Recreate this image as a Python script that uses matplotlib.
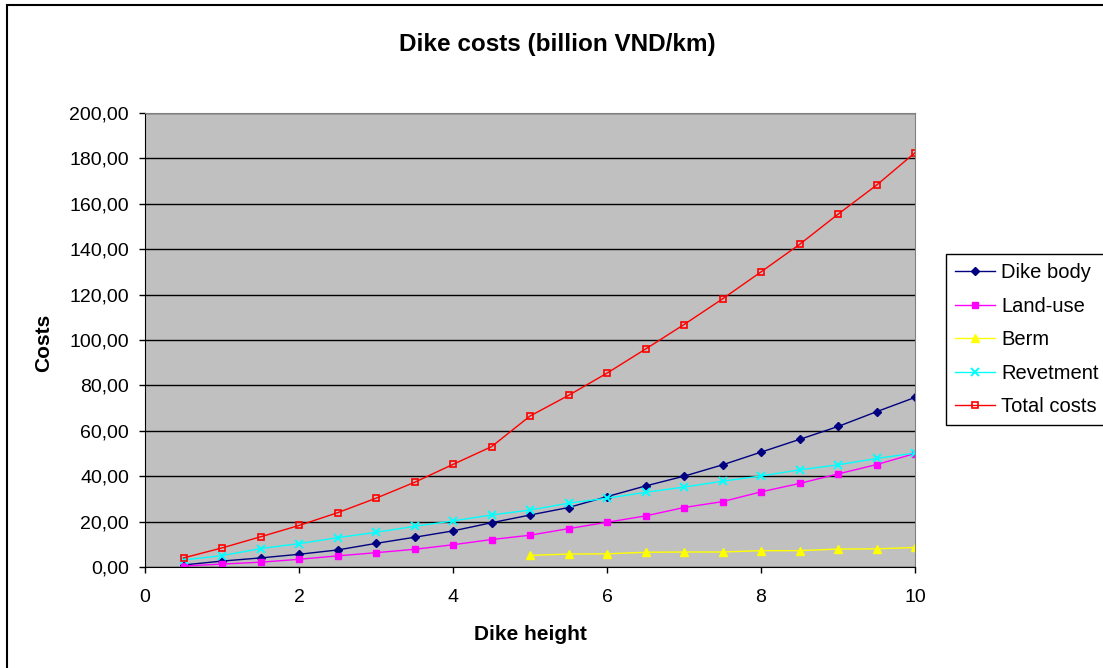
import matplotlib.pyplot as plt
from matplotlib.patches import Rectangle
from matplotlib.ticker import FuncFormatter

plt.rcParams['font.family'] = ['Liberation Sans', 'DejaVu Sans']

# Dike cost components vs. dike height (billion VND/km)
height = [0.5, 1, 1.5, 2, 2.5, 3, 3.5, 4, 4.5, 5, 5.5, 6, 6.5, 7, 7.5, 8, 8.5, 9, 9.5, 10]
dike_body = [0.9, 2.6, 4.0, 5.6, 7.5, 10.4, 13.1, 15.9, 19.5, 22.9,
             26.2, 31.0, 35.7, 40.0, 45.0, 50.6, 56.2, 61.9, 68.4, 74.7]
land_use = [0.4, 1.3, 2.1, 3.4, 4.9, 6.3, 7.8, 9.8, 12.1, 14.0,
            16.9, 19.7, 22.5, 26.2, 28.8, 33.1, 36.8, 41.0, 45.1, 50.0]
berm_height = [5, 5.5, 6, 6.5, 7, 7.5, 8, 8.5, 9, 9.5, 10]
berm = [5.1, 5.7, 5.8, 6.5, 6.6, 6.6, 7.2, 7.2, 7.9, 8.0, 8.6]
revetment = [3.1, 5.0, 8.1, 10.3, 12.9, 15.3, 17.9, 20.3, 22.9, 25.1,
             28.1, 30.3, 32.9, 35.2, 37.8, 40.1, 42.8, 45.0, 47.8, 50.2]
total = [4.0, 8.4, 13.3, 18.3, 23.9, 30.3, 37.3, 45.2, 53.0, 66.5,
         75.6, 85.4, 96.0, 106.8, 118.1, 130.0, 142.1, 155.4, 168.2, 182.5]

W, H = 1103, 668
fig = plt.figure(figsize=(W / 100, H / 100), dpi=100)
ax = fig.add_axes([145 / W, 1 - 567 / H, 770 / W, 454 / H])
ax.set_facecolor('#C0C0C0')

ax.plot(height, dike_body, color='#000080', lw=1, marker='D', ms=4.5, label='Dike body')
ax.plot(height, land_use, color='#FF00FF', lw=1, marker='s', ms=4.5, label='Land-use')
ax.plot(berm_height, berm, color='#FFFF00', lw=1, marker='^', ms=5.5, label='Berm')
ax.plot(height, revetment, color='#00FFFF', lw=1, marker='x', ms=5.5, mew=1.4, label='Revetment')
ax.plot(height, total, color='#FF0000', lw=1, marker='s', ms=4.5, mfc='none', mew=1.2,
        label='Total costs')

ax.set_xlim(0, 10)
ax.set_ylim(0, 200)
ax.set_xticks(range(0, 11, 2))
ax.set_yticks(range(0, 201, 20))
ax.yaxis.set_major_formatter(FuncFormatter(lambda v, p: f'{v:.2f}'.replace('.', ',')))
ax.tick_params(labelsize=14, length=4.5, width=1, color='#000000', direction='out')
ax.tick_params(axis='y', pad=7)
ax.tick_params(axis='x', pad=11.5)
ax.grid(axis='y', color='#000000', lw=1)
ax.set_axisbelow(True)
for s in ['top', 'right']:
    ax.spines[s].set_color('#808080')
for s in ['left', 'bottom']:
    ax.spines[s].set_color('#000000')

fig.text(530 / W, 1 - 634 / H, 'Dike height', fontsize=15, fontweight='bold',
         ha='center', va='center')
fig.text(44 / W, 1 - 343 / H, 'Costs', fontsize=15, fontweight='bold',
         ha='center', va='center', rotation=90)
fig.text(557 / W, 1 - 45 / H, 'Dike costs (billion VND/km)', fontsize=17.5,
         fontweight='bold', ha='center', va='center')

leg = fig.legend(loc='upper left', bbox_to_anchor=(946 / W, 1 - 254 / H),
                 fontsize=14.5, fancybox=False, framealpha=1, edgecolor='#000000',
                 handlelength=2.0, borderpad=0.45, labelspacing=0.72, handletextpad=0.3,
                 borderaxespad=0)
leg.get_frame().set_linewidth(1)

# outer chart border
fig.patches.append(Rectangle((7 / W, -0.01), 1.02, 1 - 5 / H + 0.01,
                             transform=fig.transFigure, fill=False, ec='#000000', lw=1.5))

fig.savefig('out.png', dpi=100)
